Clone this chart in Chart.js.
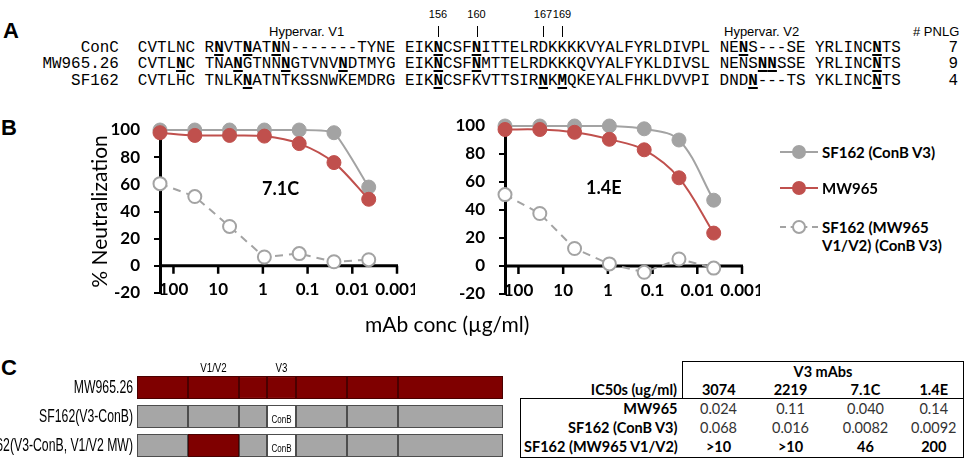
<!DOCTYPE html>
<html>
<head>
<meta charset="utf-8">
<title>V3 mAb neutralization of SF162 and MW965</title>
<script src="https://cdn.jsdelivr.net/npm/chart.js@4.4.1/dist/chart.umd.min.js"></script>
<style>
  html, body { margin:0; padding:0; }
  body { width:966px; height:458px; overflow:hidden; position:relative; background:#fff; color:#000;
         font-family: Lato, 'Open Sans', sans-serif; }
  .abs { position:absolute; white-space:nowrap; color:#000; }
  .panel { font-family:'Liberation Sans', Arial, sans-serif; font-weight:bold; font-size:22px; line-height:1; }
  .arial { font-family:'Liberation Sans', Arial, sans-serif; }
  #align { font-family:'Liberation Mono', 'Courier New', monospace; font-size:15.9px; line-height:16.5px;
           margin:0; white-space:pre; }
  #align u { text-decoration-thickness:2px; text-underline-offset:2px; }
  canvas { position:absolute; }
  .leg { position:absolute; left:780px; font-weight:bold; font-size:15px; line-height:18px; display:flex; align-items:flex-start; }
  .key { position:relative; width:38px; height:18px; margin-right:4px; flex:none; }
  .key .ln { position:absolute; left:0; right:0; top:8px; border-top:2px solid; }
  .key .dot { position:absolute; left:12px; top:2px; width:14px; height:14px; border-radius:50%; box-sizing:border-box; }
  #ic50 { position:absolute; left:520px; top:361px; width:443px; border-collapse:collapse; table-layout:fixed; font-size:14.5px; }
  #ic50 td { padding:0 3px; text-align:center; line-height:17px; white-space:nowrap; }
  #ic50 td.lab { text-align:right; font-weight:bold; padding-right:5px; }
</style>
</head>
<body>

<!-- panel A: alignment -->
<div class="abs panel" style="left:3px; top:20px;">A</div>
<div class="abs arial" style="left:269px; top:24px; font-size:13px;">Hypervar. V1</div>
<div class="abs arial" style="left:724px; top:24px; font-size:13px;">Hypervar. V2</div>
<div class="abs arial" style="left:913px; top:24px; font-size:13px;"># PNLG</div>
<div id="sites"></div>
<pre id="align" class="abs" style="left:42.5px; top:39.5px;"></pre>

<!-- panel B: neutralization curves -->
<div class="abs panel" style="left:1px; top:117px;">B</div>
<canvas id="chart71C" style="left:85px; top:110px;" width="330" height="210"></canvas>
<canvas id="chart14E" style="left:440px; top:106px;" width="320" height="215"></canvas>
<div class="abs" style="left:262px; top:177px; font-weight:bold; font-size:18px;">7.1C</div>
<div class="abs" style="left:586px; top:176px; font-weight:bold; font-size:18px;">1.4E</div>
<div class="abs" style="left:365px; top:311px; font-size:21px;">mAb conc (µg/ml)</div>
<div id="legend"></div>

<!-- panel C: chimera schematic and IC50 table -->
<div class="abs panel" style="left:1px; top:357px;">C</div>
<canvas id="schematic" style="left:-60px; top:358px;" width="563" height="102"></canvas>
<table id="ic50"></table>

<script>
// ---- panel B data ----
const concentrations = [200, 33.3, 5.56, 0.926, 0.154, 0.0257, 0.00429];   // µg/ml
const xTickValues = [100, 10, 1, 0.1, 0.01, 0.001];
const seriesNames = ['SF162 (ConB V3)', 'MW965', 'SF162 (MW965 V1/V2) (ConB V3)'];

const mab71C_conB    = [100, 100, 100, 100, 100, 98, 58];
const mab71C_mw965   = [98, 96, 96, 95.5, 90, 76, 49];
const mab71C_chimera = [60.5, 51, 29, 6.5, 9, 3, 4.5];

const mab14E_conB    = [100, 100, 100, 100, 98, 90, 47];
const mab14E_mw965   = [97.5, 97.5, 95.5, 90.5, 83, 63, 23.5];
const mab14E_chimera = [51, 37.5, 12.5, 1.5, -4.5, 5, -1.5];

// ---- panel A data ----
const alignNames = ['ConC', 'MW965.26', 'SF162'];
const alignSeqs = [   // _X = glycosylation site (bold, underlined)
  ['CVTLNC', 'R_NVT_NAT_NN-------TYNE', 'EIK_NCSF_NITTELRDKKKKVYALFYRLDIVPL', 'NE_NS---SE', 'YRLINC_NTS'],
  ['CVTL_NC', 'TNA_NGTNN_NGTVNV_NDTMYG', 'EIK_NCSF_NMTTELRDKKKQVYALFYKLDIVSL', 'NENS_N_NSSE', 'YRLINC_NTS'],
  ['CVTLHC', 'TNLK_NATNTKSSNWKEMDRG', 'EIK_NCSFKVTTSIR_NK_MQKEYALFHKLDVVPI', 'DND_N---TS', 'YKLINC_NTS']
];
const pnlgCounts = [7, 9, 4];
const siteNumbers = [156, 160, 167, 169];
const siteLeft = [438, 476.5, 543, 562];

// ---- panel C data ----
const rowLabels = ['MW965.26', 'SF162(V3-ConB)', 'SF162(V3-ConB, V1/V2 MW)'];
const segmentLengths = [51, 51, 28, 29, 51, 51, 105];
const regionNames = ['', 'V1/V2', '', 'V3', '', '', ''];
const segmentOrigin = [
  ['MW', 'MW', 'MW', 'MW', 'MW', 'MW', 'MW'],
  ['SF', 'SF', 'SF', 'ConB', 'SF', 'SF', 'SF'],
  ['SF', 'MW', 'SF', 'ConB', 'SF', 'SF', 'SF']
];
const mabNames = ['3074', '2219', '7.1C', '1.4E'];
const ic50Rows = ['MW965', 'SF162 (ConB V3)', 'SF162 (MW965 V1/V2)'];
const ic50Values = [
  ['0.024', '0.11', '0.040', '0.14'],
  ['0.068', '0.016', '0.0082', '0.0092'],
  ['>10', '>10', '46', '200']
];

const GRAY = '#a3a3a3';
const RED = '#c0504d';

// ---- panel A ----
document.getElementById('align').innerHTML = alignNames.map((n, i) => {
  const seq = alignSeqs[i].join(' ').replace(/_(.)/g, '<b><u>$1</u></b>');
  return n.padStart(8, ' ') + '  ' + seq + '     ' + pnlgCounts[i];
}).join('\n');

document.getElementById('sites').innerHTML = siteNumbers.map((s, i) => `
  <div class="abs arial" style="left:${siteLeft[i] - 15}px; width:30px; text-align:center; top:8px; font-size:11px;">${s}</div>
  <div class="abs" style="left:${siteLeft[i]}px; top:26px; width:1px; height:11px; background:#000;"></div>
`).join('');

// ---- panel B ----
const legendStyles = [
  { line: GRAY, dash: 'solid', fill: GRAY, border: GRAY },
  { line: RED, dash: 'solid', fill: RED, border: RED },
  { line: GRAY, dash: 'dashed', fill: '#fff', border: GRAY }
];
const legendTops = [143, 179, 218];
document.getElementById('legend').innerHTML = seriesNames.map((name, i) => {
  const st = legendStyles[i];
  const text = i === 2 ? 'SF162 (MW965<br>V1/V2) (ConB V3)' : name;
  return `<div class="leg" style="top:${legendTops[i]}px">
    <span class="key"><span class="ln" style="border-top:2px ${st.dash} ${st.line}"></span>
    <span class="dot" style="background:${st.fill}; border:2px solid ${st.border}"></span></span>
    <span>${text}</span></div>`;
}).join('');

const tickFont = "bold 17px Lato";

// x axis drawn at y = 0 (Excel style), tick labels along the bottom of the plot
const zeroAxis = {
  id: 'zeroAxis',
  beforeDatasetsDraw(chart) {
    const { ctx, chartArea, scales: { x, y } } = chart;
    const y0 = y.getPixelForValue(0);
    const xEnd = x.getPixelForValue(xTickValues[xTickValues.length - 1]);
    ctx.save();
    ctx.strokeStyle = '#000';
    ctx.lineWidth = 3;
    ctx.beginPath();
    ctx.moveTo(chartArea.left, y0);
    ctx.lineTo(xEnd + 1, y0);
    ctx.stroke();
    ctx.lineWidth = 2.5;
    ctx.beginPath();
    xTickValues.forEach(v => {
      const px = x.getPixelForValue(v);
      ctx.moveTo(px, y0);
      ctx.lineTo(px, y0 + 8);
    });
    ctx.stroke();
    ctx.fillStyle = '#000';
    ctx.font = tickFont;
    ctx.textAlign = 'center';
    ctx.textBaseline = 'middle';
    const yLab = y.getPixelForValue(y.min) - 3;
    xTickValues.forEach(v => ctx.fillText(String(v), x.getPixelForValue(v), yLab));
    ctx.restore();
  }
};

function curveDatasets(conB, mw, chimera, tension) {
  const pts = arr => arr.map((v, i) => ({ x: concentrations[i], y: v }));
  return [
    { label: seriesNames[0], data: pts(conB), borderColor: GRAY, borderWidth: 2,
      pointBackgroundColor: GRAY, pointBorderColor: GRAY, pointRadius: 7, pointBorderWidth: 1,
      tension: tension[0], order: 3, clip: false },
    { label: seriesNames[1], data: pts(mw), borderColor: RED, borderWidth: 2,
      pointBackgroundColor: RED, pointBorderColor: RED, pointRadius: 7, pointBorderWidth: 1,
      tension: tension[1], order: 2, clip: false },
    { label: seriesNames[2], data: pts(chimera), borderColor: GRAY, borderWidth: 2, borderDash: [8, 6],
      pointBackgroundColor: '#fff', pointBorderColor: GRAY, pointRadius: 6.5, pointBorderWidth: 2,
      tension: 0, order: 1, clip: false }
  ];
}

function curveChart(id, datasets, yWidth, withTitle) {
  return new Chart(document.getElementById(id), {
    type: 'line',
    data: { datasets },
    options: {
      responsive: false,
      animation: false,
      layout: { padding: { top: 20, right: 18, bottom: 17, left: 0 } },
      plugins: { legend: { display: false }, tooltip: { enabled: false } },
      scales: {
        x: {
          type: 'logarithmic', reverse: true, min: 0.001, max: 200,
          afterBuildTicks: s => { s.ticks = xTickValues.map(v => ({ value: v })); },
          afterFit: s => { s.height = 10; s.paddingLeft = 0; s.paddingRight = 0; },
          ticks: { display: false },
          grid: { display: false, drawTicks: false },
          border: { display: false }
        },
        y: {
          min: -20, max: 100,
          afterFit: s => { s.width = yWidth; s.paddingTop = 0; s.paddingBottom = 0; },
          ticks: { stepSize: 20, font: { family: 'Lato', size: 17, weight: 'bold' }, color: '#000', padding: 14 },
          grid: { drawOnChartArea: false, drawTicks: true, tickLength: 6, color: '#000', lineWidth: 2 },
          border: { display: true, color: '#000', width: 3 },
          title: { display: withTitle, text: '% Neutralization', color: '#000',
                   font: { family: 'Lato', size: 21 }, padding: { top: 3, bottom: 0 } }
        }
      }
    },
    plugins: [zeroAxis]
  });
}

curveChart('chart71C', curveDatasets(mab71C_conB, mab71C_mw965, mab71C_chimera, [0.15, 0.3]), 75, true);
curveChart('chart14E', curveDatasets(mab14E_conB, mab14E_mw965, mab14E_chimera, [0.35, 0.35]), 65, false);

// ---- panel C schematic ----
const originColor = { MW: '#7f0000', SF: '#a6a6a6', ConB: '#ffffff' };
const originBorder = { MW: '#4a0000', SF: '#4d4d4d', ConB: '#4d4d4d' };

// narrow (Arial Narrow look) text: horizontally squeezed Liberation Sans
function narrowText(ctx, text, x, y, size, squeeze, align) {
  ctx.save();
  ctx.translate(x, y);
  ctx.scale(squeeze, 1);
  ctx.font = size + "px 'Liberation Sans', Arial, sans-serif";
  ctx.textAlign = align;
  ctx.fillText(text, 0, 0);
  ctx.restore();
}

const schematicLabels = {
  id: 'schematicLabels',
  afterDatasetsDraw(chart) {
    const { ctx, chartArea, scales: { y } } = chart;
    ctx.save();
    ctx.fillStyle = '#000';
    ctx.textBaseline = 'middle';
    rowLabels.forEach((lab, r) => narrowText(ctx, lab, chartArea.left - 4, y.getPixelForValue(r) + 1, 18, 0.68, 'right'));
    segmentLengths.forEach((len, i) => {
      chart.getDatasetMeta(i).data.forEach((bar, r) => {
        const cx = (bar.x + bar.base) / 2;
        if (r === 0 && regionNames[i]) {
          narrowText(ctx, regionNames[i], cx, bar.y - bar.height / 2 - 8, 13, 0.75, 'center');
        }
        if (segmentOrigin[r][i] === 'ConB') {
          narrowText(ctx, 'ConB', cx, bar.y + 4, 10, 0.8, 'center');
        }
      });
    });
    ctx.restore();
  }
};

new Chart(document.getElementById('schematic'), {
  type: 'bar',
  data: {
    labels: rowLabels,
    datasets: segmentLengths.map((len, i) => ({
      data: rowLabels.map(() => len),
      backgroundColor: rowLabels.map((_, r) => originColor[segmentOrigin[r][i]]),
      borderColor: rowLabels.map((_, r) => originBorder[segmentOrigin[r][i]]),
      borderWidth: 1,
      borderSkipped: false,
      barPercentage: 0.79,
      categoryPercentage: 1
    }))
  },
  options: {
    indexAxis: 'y',
    responsive: false,
    animation: false,
    layout: { padding: { top: 15, right: 0, bottom: 0, left: 0 } },
    plugins: { legend: { display: false }, tooltip: { enabled: false } },
    scales: {
      x: { stacked: true, display: false, min: 0, max: segmentLengths.reduce((a, b) => a + b, 0) },
      y: {
        stacked: true,
        afterFit: s => { s.width = 197; s.paddingTop = 0; s.paddingBottom = 0; },
        ticks: { display: false },
        grid: { display: false },
        border: { display: false }
      }
    }
  },
  plugins: [schematicLabels]
});

// ---- panel C table ----
const B = '1.5px solid #000';
let html = `<colgroup><col style="width:162px"><col style="width:72px"><col style="width:72px"><col style="width:78px"><col style="width:59px"></colgroup>`;
html += `<tr style="height:19px"><td></td><td colspan="4" style="font-weight:bold; border-top:${B}; border-left:${B}; border-right:${B};">V3 mAbs</td></tr>`;
html += `<tr style="height:18px; border-bottom:${B}"><td class="lab">IC50s (ug/ml)</td>` +
  mabNames.map((m, j) => `<td style="font-weight:bold;${j === 0 ? 'border-left:' + B + ';' : ''}${j === 3 ? 'border-right:' + B + ';' : ''}">${m}</td>`).join('') + '</tr>';
ic50Rows.forEach((name, r) => {
  const last = r === ic50Rows.length - 1;
  html += `<tr style="height:${last ? 21 : 19}px;${last ? 'border-bottom:' + B + ';' : ''}"><td class="lab" style="border-left:${B}">${name}</td>` +
    ic50Values[r].map((v, j) => `<td style="${last ? 'font-weight:bold;' : 'color:#333;'}${j === 3 ? 'border-right:' + B + ';' : ''}">${v.replace('>', '&gt;')}</td>`).join('') + '</tr>';
});
document.getElementById('ic50').innerHTML = html;
</script>
</body>
</html>
